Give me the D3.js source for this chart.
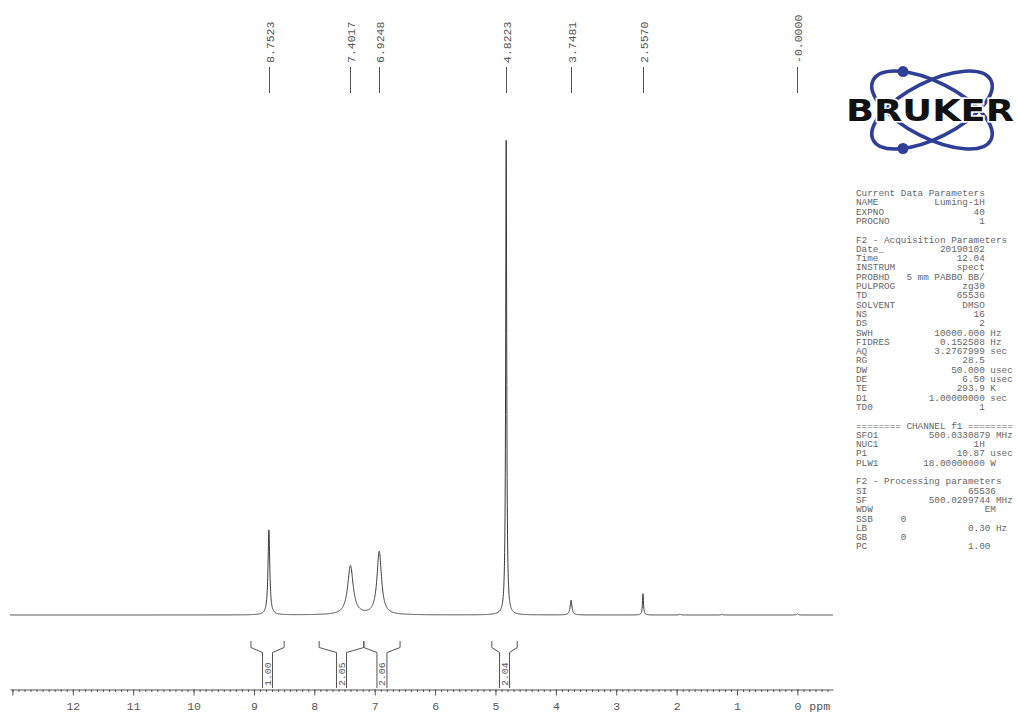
<!DOCTYPE html>
<html>
<head>
<meta charset="utf-8">
<script src="https://cdn.jsdelivr.net/npm/d3@7"></script>
<style>
  html, body { margin: 0; padding: 0; background: #fff; }
  svg { display: block; }
</style>
</head>
<body>
<svg id="chart" width="1017" height="715"></svg>
<script>
// ---- 1H NMR spectrum data (DMSO, 500 MHz) ----
const peakPpm    = [8.7523, 7.4017, 6.9248, 4.8223, 3.7481, 2.5570, 1.945, 1.25, 0.0];
const peakHeight = [17.9,   10.3,   13.3,   100,    3.1,    4.5,    0.15,  0.12, 0.25];
const peakFwhm   = [0.035,  0.11,   0.09,   0.02,   0.035,  0.02,   0.03,  0.03, 0.03];

// picked peak labels at the top
const pickPpm   = [8.7523, 7.4017, 6.9248, 4.8223, 3.7481, 2.5570, 0.0];
const pickLabel = ["8.7523", "7.4017", "6.9248", "4.8223", "3.7481", "2.5570", "-0.0000"];

// integral regions
const integralFrom  = [9.05, 7.92, 7.18, 5.06];
const integralTo    = [8.50, 7.18, 6.58, 4.64];
const integralValue = ["1.00", "2.05", "2.06", "2.04"];

// axis ticks
const majorTicks = d3.range(0, 14);          // 0 … 13 ppm
const tickLabels = ["0","1","2","3","4","5","6","7","8","9","10","11","12",""];
const minorTicks = d3.range(-5, 131).map(d => d / 10);

// acquisition / processing parameters
const sectionTitles = ["Current Data Parameters", "F2 - Acquisition Parameters",
                       "======== CHANNEL f1 ========", "F2 - Processing parameters"];
const currentNames  = ["NAME", "EXPNO", "PROCNO"];
const currentValues = ["Luming-1H", "40", "1"];
const acqNames  = ["Date_", "Time", "INSTRUM", "PROBHD", "PULPROG", "TD", "SOLVENT", "NS", "DS",
                   "SWH", "FIDRES", "AQ", "RG", "DW", "DE", "TE", "D1", "TD0"];
const acqValues = ["20190102", "12.04", "spect", "5 mm PABBO BB/", "zg30", "65536", "DMSO", "16", "2",
                   "10000.000", "0.152588", "3.2767999", "28.5", "50.000", "6.50", "293.9", "1.00000000", "1"];
const acqUnits  = ["", "", "", "", "", "", "", "", "",
                   "Hz", "Hz", "sec", "", "usec", "usec", "K", "sec", ""];
const chanNames  = ["SFO1", "NUC1", "P1", "PLW1"];
const chanValues = ["500.0330879", "1H", "10.87", "18.00000000"];
const chanUnits  = ["MHz", "", "usec", "W"];
const procNames  = ["SI", "SF", "WDW", "SSB", "LB", "GB", "PC"];
const procValues = ["65536", "500.0299744", "EM", "0", "0.30", "0", "1.00"];
const procUnits  = ["", "MHz", "", "", "Hz", "", ""];

// ---- layout ----
const svg = d3.select("#chart");
const MONO = "'Courier New', 'Liberation Mono', monospace";
const ink = "#3a3a3a";
const textInk = "#555";

const x = d3.scaleLinear().domain([13.04, -0.59]).range([10, 833]);
const y = d3.scaleLinear().domain([0, 100]).range([615, 140]);

// spectrum: Lorentzian line shapes summed over the peak list
const grid = d3.range(13.04, -0.5901, -0.002);
const lorentz = (p, c, h, w) => h / (1 + Math.pow((p - c) / (w / 2), 2));
const spectrum = grid.map(p => {
  let s = 0;
  for (let i = 0; i < peakPpm.length; i++) s += lorentz(p, peakPpm[i], peakHeight[i], peakFwhm[i]);
  return [p, s];
});

svg.append("path")
  .datum(spectrum)
  .attr("fill", "none")
  .attr("stroke", ink)
  .attr("stroke-width", 1)
  .attr("d", d3.line().x(d => x(d[0])).y(d => y(d[1])));

// picked-peak labels with leader lines
const picks = svg.append("g");
pickPpm.forEach((p, i) => {
  const px = Math.round(x(p)) + 0.5;
  picks.append("line")
    .attr("x1", px).attr("x2", px).attr("y1", 67).attr("y2", 93)
    .attr("stroke", "#555").attr("stroke-width", 1);
  picks.append("text")
    .attr("transform", `translate(${px},63) rotate(-90)`)
    .attr("dy", "0.36em")
    .attr("font-family", MONO).attr("font-size", 11.5)
    .attr("fill", textInk)
    .text(pickLabel[i]);
});

// integral brackets
const integ = svg.append("g").attr("stroke", "#555").attr("stroke-width", 1).attr("fill", "none");
integralFrom.forEach((a, i) => {
  const xa = x(a), xb = x(integralTo[i]);
  const xc = (xa + xb) / 2;
  const l = xc - 5, r = xc + 5;
  const pts = [[xa, 641], [xa, 647.5], [l, 652.5], [l, 688]];
  const pts2 = [[xb, 641], [xb, 647.5], [r, 652.5], [r, 688]];
  integ.append("path").attr("d", d3.line()(pts));
  integ.append("path").attr("d", d3.line()(pts2));
  svg.append("text")
    .attr("transform", `translate(${xc},686) rotate(-90)`)
    .attr("dy", "0.36em")
    .attr("font-family", MONO).attr("font-size", 9.8)
    .attr("fill", textInk)
    .text(integralValue[i]);
});

// ppm axis
const axisY = 689.5;
const minorAxis = d3.axisBottom(x).tickValues(minorTicks).tickSize(2.5).tickSizeOuter(0).tickFormat("");
const majorAxis = d3.axisBottom(x).tickValues(majorTicks).tickSize(6).tickSizeOuter(0).tickPadding(6.5)
  .tickFormat(d => tickLabels[d]);
const gMinor = svg.append("g").attr("transform", `translate(0,${axisY})`).call(minorAxis);
const gMajor = svg.append("g").attr("transform", `translate(0,${axisY})`).call(majorAxis);
[gMinor, gMajor].forEach(g => {
  g.selectAll("path.domain").attr("stroke", "#555");
  g.selectAll(".tick line").attr("stroke", "#555");
});
gMinor.select("path.domain").remove();
gMajor.selectAll(".tick text").attr("font-family", MONO).attr("font-size", 11.5).attr("fill", textInk);
svg.append("text")
  .attr("x", x(0) + 12).attr("y", 710)
  .attr("font-family", MONO).attr("font-size", 11.5).attr("fill", textInk)
  .text("ppm");

// Bruker logo: two crossed orbits, wordmark, two electrons
const logo = svg.append("g");
const logoBlue = "#2f3f98";
const lc = [932, 110], la = 66, lb = 28, tilt = 27;
[tilt, -tilt].forEach(a => {
  logo.append("ellipse")
    .attr("cx", 0).attr("cy", 0).attr("rx", la).attr("ry", lb)
    .attr("transform", `translate(${lc[0]},${lc[1]}) rotate(${a})`)
    .attr("fill", "none").attr("stroke", logoBlue).attr("stroke-width", 3.6);
});
logo.append("text")
  .attr("x", 846).attr("y", 121)
  .attr("font-family", "'DejaVu Sans', sans-serif").attr("font-weight", "bold")
  .attr("font-size", 30.5)
  .attr("textLength", 168).attr("lengthAdjust", "spacingAndGlyphs")
  .attr("fill", "#111").attr("stroke", "#fff").attr("stroke-width", 3)
  .attr("paint-order", "stroke")
  .text("BRUKER");
// electrons sit on the orbits at x = 903 (top on one orbit, bottom on the other)
function orbitPoint(angleDeg, targetX, upper) {
  const th = angleDeg * Math.PI / 180;
  let best = null;
  for (let t = 0; t < Math.PI * 2; t += 0.001) {
    const ex = la * Math.cos(t), ey = lb * Math.sin(t);
    const px = lc[0] + ex * Math.cos(th) - ey * Math.sin(th);
    const py = lc[1] + ex * Math.sin(th) + ey * Math.cos(th);
    if ((upper && py < lc[1]) || (!upper && py > lc[1])) {
      if (!best || Math.abs(px - targetX) < Math.abs(best[0] - targetX)) best = [px, py];
    }
  }
  return best;
}
const eTop = orbitPoint(tilt, 903, true), eBot = orbitPoint(-tilt, 903, false);
[eTop, eBot].forEach(pt => logo.append("circle")
  .attr("cx", pt[0]).attr("cy", pt[1]).attr("r", 5.5).attr("fill", logoBlue));

// parameter listing (monospace columns)
const pfs = 9.33, cw = pfs * 0.6, px0 = 856, rowH = 9.3, row0 = 196;
const params = svg.append("g").attr("font-family", MONO).attr("font-size", pfs).attr("fill", "#666");
let row = 0;
function title(t) {
  params.append("text").attr("x", px0).attr("y", row0 + row * rowH)
    .attr("xml:space", "preserve").style("white-space", "pre").text(t);
  row++;
}
function entry(name, value, unit, endCol, startCol) {
  const yy = row0 + row * rowH;
  params.append("text").attr("x", px0).attr("y", yy).text(name);
  if (startCol !== undefined) {
    params.append("text").attr("x", px0 + startCol * cw).attr("y", yy).text(value);
  } else {
    params.append("text").attr("x", px0 + endCol * cw).attr("y", yy)
      .attr("text-anchor", "end").style("white-space", "pre").text(value);
    if (unit) params.append("text").attr("x", px0 + (endCol + 1) * cw).attr("y", yy).text(unit);
  }
  row++;
}
title(sectionTitles[0]);
currentNames.forEach((n, i) => entry(n, currentValues[i], "", 23));
row++;
title(sectionTitles[1]);
acqNames.forEach((n, i) => entry(n, acqValues[i], acqUnits[i], 23));
row++;
title(sectionTitles[2]);
const chanEnd = [24, 23, 23, 23];
chanNames.forEach((n, i) => entry(n, chanValues[i], chanUnits[i], chanEnd[i]));
row++;
title(sectionTitles[3]);
const procEnd = [25, 24, 25, null, 24, null, 24];
procNames.forEach((n, i) => {
  if (procEnd[i] === null) entry(n, procValues[i], procUnits[i], 0, 8);
  else entry(n, procValues[i], procUnits[i], procEnd[i]);
});
</script>
</body>
</html>
